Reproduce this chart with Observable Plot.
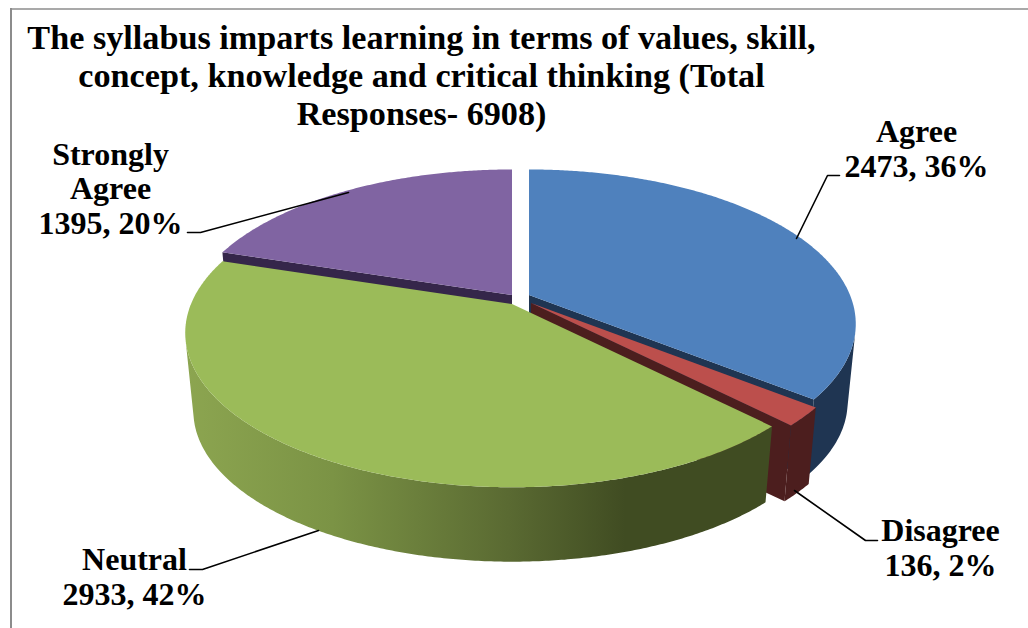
<!DOCTYPE html>
<html>
<head>
<meta charset="utf-8">
<script src="https://cdn.jsdelivr.net/npm/d3@7"></script>
<script src="https://cdn.jsdelivr.net/npm/@observablehq/plot@0.6"></script>
<style>html,body{margin:0;padding:0;background:#fff;overflow:hidden}svg{display:block}</style>
</head>
<body>
<div id="chart"></div>
<script>
// Data
const titleLines = [
  "The syllabus imparts learning in terms of values, skill,",
  "concept, knowledge and critical thinking (Total",
  "Responses- 6908)"
];
const categories = ["Agree", "Disagree", "Neutral", "Strongly Agree"];
const counts = [2473, 136, 2933, 1395];
const percents = [36, 2, 42, 20];
const labelNames = ["Agree", "Disagree", "Neutral", "Strongly\nAgree"];

// Look of each slice
const topColors = ["#4f81bd", "#bc4f4c", "#9bbb59", "#8064a2"];
const wallColors = ["#1f3552", "#4c1e1e", "url(#greenWall)", "#35264a"];
const greenStops = [[0, "#8ca550"], [0.25, "#7b9345"], [0.55, "#5a6a32"], [0.75, "#404c22"], [1, "#404c22"]];

// Layout of the exploded, tilted pie, in picture pixels
const W = 1028, H = 628;
const apexes = [[529, 295], [531, 303], [512, 304], [512, 295]];
const K = 321, M = 149, P = 0.187, DROP = 79, SHRINK = 0.975;
const labelPos = [[916, 176], [940, 575], [134, 604], [110, 233]];
const leaders = [
  [[839, 175], [827, 175], [796, 238]],
  [[877, 540], [865, 540], [794, 490]],
  [[189, 569], [202, 569], [318, 530]],
  [[187, 232], [200, 232], [348, 192]]
];

// Slice angles, clockwise from twelve o'clock, from the counts
const total = d3.sum(counts);
let running = 0;
const slices = categories.map((c, i) => {
  const a0 = running / total * 2 * Math.PI;
  running += counts[i];
  return {category: c, i, a0, a1: running / total * 2 * Math.PI, apex: apexes[i]};
});

const project = (s, a, r = 1) => {
  const X = r * Math.sin(a), Y = r * Math.cos(a), w = 1 + P * Y;
  const dx = K * X / w, dy = -M * Y / w;
  return {
    tx: s.apex[0] + dx, ty: s.apex[1] + dy,
    bx: s.apex[0] + SHRINK * dx, by: s.apex[1] + DROP + SHRINK * dy
  };
};
const sweep = (s) => {
  const n = Math.max(8, Math.ceil((s.a1 - s.a0) * 120));
  return d3.range(n + 1).map((j) => s.a0 + (s.a1 - s.a0) * j / n);
};
// Only the stretch of rim that faces the viewer, so that the wall path never folds over itself
const facing = (s) => sweep(s).filter((a) => {
  const p = project(s, a), q = project(s, a + 1e-3);
  return (q.tx - p.tx) * (p.by - p.ty) - (q.ty - p.ty) * (p.bx - p.tx) < 0;
});

const topMark = (s) => Plot.area(sweep(s).map((a) => project(s, a)), {
  x1: () => s.apex[0], y1: () => s.apex[1], x2: "tx", y2: "ty",
  fill: topColors[s.i], curve: "linear"
});
const wallMark = (s) => Plot.area(facing(s).map((a) => project(s, a)), {
  x1: "tx", y1: "ty", x2: "bx", y2: "by", fill: wallColors[s.i], curve: "linear"
});
const cutMark = (s, a) => Plot.area([project(s, a, 0), project(s, a, 1)], {
  x1: "tx", y1: "ty", x2: "bx", y2: "by", fill: wallColors[s.i], curve: "linear"
});

const [agree, disagree, neutral, strong] = slices;

const gradient = () => {
  const defs = d3.create("svg:defs");
  const g = defs.append("linearGradient").attr("id", "greenWall");
  g.selectAll("stop").data(greenStops).join("stop")
    .attr("offset", (d) => d[0]).attr("stop-color", (d) => d[1]);
  return defs.node();
};

const textOptions = {
  fontWeight: "bold", fill: "#000", textAnchor: "middle", lineAnchor: "bottom",
  fontFamily: "'Liberation Serif'"
};

const plot = Plot.plot({
  width: W, height: H,
  margin: 0,
  x: {domain: [0, W], range: [0, W], axis: null},
  y: {domain: [0, H], range: [0, H], axis: null},
  style: {background: "#fff"},
  marks: [
    gradient,
    Plot.ruleX([10.5], {y1: 8, y2: H, stroke: "#8c8c8c", strokeWidth: 2}),
    Plot.ruleY([8.5], {x1: 10, x2: W, stroke: "#8c8c8c", strokeWidth: 1.5}),

    cutMark(strong, strong.a0), cutMark(strong, strong.a1), topMark(strong),
    wallMark(agree), cutMark(agree, agree.a1), topMark(agree),
    cutMark(disagree, disagree.a1), wallMark(disagree), topMark(disagree),
    wallMark(neutral), topMark(neutral),

    ...leaders.map((pts) => Plot.line(pts, {x: (d) => d[0], y: (d) => d[1], stroke: "#000", strokeWidth: 1.6})),

    Plot.text([titleLines.join("\n")], {
      ...textOptions, text: (d) => d, x: () => 421, y: () => 124,
      fontSize: 34.2, lineHeight: 1.1
    }),
    Plot.text(slices, {
      ...textOptions,
      text: (d) => `${labelNames[d.i]}\n${counts[d.i].toLocaleString("en-US", {useGrouping: false})}, ${percents[d.i]}%`,
      x: (d) => labelPos[d.i][0], y: (d) => labelPos[d.i][1],
      fontSize: 32, lineHeight: 1.07
    })
  ]
});
document.getElementById("chart").append(plot);
</script>
</body>
</html>
